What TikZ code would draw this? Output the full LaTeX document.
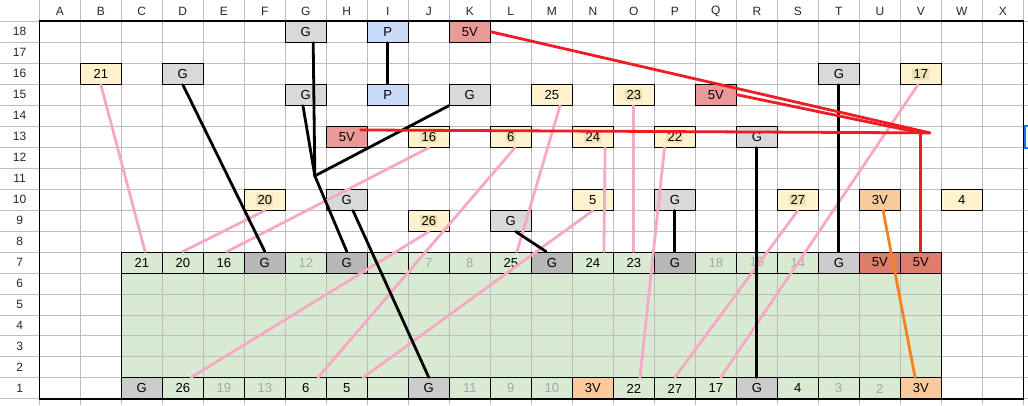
\documentclass[tikz,border=0pt]{standalone}
\usepackage{fontspec}
\setmainfont{Liberation Sans}
\usetikzlibrary{calc, positioning}

\definecolor{amarilloc}{HTML}{FFF2CC}
\definecolor{resalte}{HTML}{EEE2B4}
\definecolor{grisc}{HTML}{D9D9D9}
\definecolor{grism}{HTML}{CCCCCC}
\definecolor{grisd}{HTML}{B7B7B7}
\definecolor{azulc}{HTML}{C9DAF8}
\definecolor{rojoc}{HTML}{EA9999}
\definecolor{rojod}{HTML}{DD7E6B}
\definecolor{naranjac}{HTML}{F9CB9C}
\definecolor{verdec}{HTML}{D9EAD3}
\definecolor{rejilla}{HTML}{BDBDBD}
\definecolor{cablerosa}{HTML}{F7A8C4}
\definecolor{cablerojo}{HTML}{EE1D23}
\definecolor{cablenaranja}{HTML}{F58220}
\definecolor{seleccion}{HTML}{1A73E8}

\newcommand{\tostado}[1]{{\setlength{\fboxsep}{1pt}\colorbox{resalte}{#1}}}

\begin{document}
\begin{tikzpicture}[x=30.75pt, y=15.735pt,
  celda/.style={draw=black, line width=0.75pt, minimum width=30.75pt,
    minimum height=15.735pt, inner sep=0pt, font=\fontsize{9.8}{11}\selectfont},
  amarillo/.style={celda, fill=amarilloc},
  gris/.style={celda, fill=grisc},
  azul/.style={celda, fill=azulc},
  rojo/.style={celda, fill=rojoc},
  naranja/.style={celda, fill=naranjac},
  verde/.style={celda, fill=verdec},
  apagado/.style={celda, fill=verdec, text=black!35},
  oscuro/.style={celda, fill=grisd},
  medio/.style={celda, fill=grism},
  fuerte/.style={celda, fill=rojod},
  cabeza/.style={font=\fontsize{9}{10}\selectfont, text=black!85},
  cable/.style={line width=2.1pt, line cap=round},
  rosa/.style={cable, draw=cablerosa},
  negro/.style={cable, draw=black},
  rojocable/.style={cable, draw=cablerojo},
  naranjacable/.style={cable, draw=cablenaranja}]

\useasboundingbox (-0.959,-0.29) rectangle (24.114,19.015);

% Fondo verde de la placa
\fill[verdec] (2,1) rectangle (22,6);

% Rejilla de la hoja
\foreach \i in {0,...,24}
  \draw[rejilla, line width=0.75pt] (\i,-0.29) -- (\i,19.015);
\foreach \r in {0,...,18}
  \draw[rejilla, line width=0.75pt] (-0.959,\r) -- (24.114,\r);

% Cabeceras de columnas y filas
\foreach \l [count=\i from 0] in {A,B,C,D,E,F,G,H,I,J,K,L,M,N,O,P,Q,R,S,T,U,V,W,X}
  \node[cabeza] (col\l) at (\i+0.5,18.47) {\l};
\foreach \r in {1,...,18}
  \node[cabeza] (fila\r) at (-0.48,\r-0.5) {\r};

% Fila 7 del conector
\foreach \c/\t/\s in {2/21/verde, 3/20/verde, 4/16/verde, 5/G/oscuro, 6/12/apagado,
    7/G/oscuro, 8//verde, 9/7/apagado, 10/8/apagado, 11/25/verde, 12/G/oscuro,
    13/24/verde, 14/23/verde, 15/G/oscuro, 16/18/apagado, 17/15/apagado,
    18/14/apagado, 19/G/medio, 20/5V/fuerte, 21/5V/fuerte}
  \node[\s] (t\c) at (\c+0.5,6.5) {\t};

% Fila 1 del conector
\foreach \c/\t/\s in {2/G/medio, 3/26/verde, 4/19/apagado, 5/13/apagado, 6/6/verde,
    7/5/verde, 8//verde, 9/G/medio, 10/11/apagado, 11/9/apagado, 12/10/apagado,
    13/3V/naranja, 14/22/verde, 15/27/verde, 16/17/verde, 17/G/medio,
    18/4/verde, 19/3/apagado, 20/2/apagado, 21/3V/naranja}
  \node[\s] (b\c) at (\c+0.5,0.5) {\t};

% Borde de la placa y de la hoja
\draw[line width=0.75pt] (2,0) rectangle (22,7);
\draw[line width=1.2pt] (0,0) rectangle (24,18);

% Etiquetas sueltas
\node[gris] (G18) at (6.5,17.5) {G};
\node[azul] (I18) at (8.5,17.5) {P};
\node[rojo] (K18) at (10.5,17.5) {5V};
\node[amarillo] (B16) at (1.5,15.5) {21};
\node[gris] (D16) at (3.5,15.5) {G};
\node[gris] (T16) at (19.5,15.5) {G};
\node[amarillo] (V16) at (21.5,15.5) {\tostado{17}};
\node[gris] (G15) at (6.5,14.5) {G};
\node[azul] (I15) at (8.5,14.5) {P};
\node[gris] (K15) at (10.5,14.5) {G};
\node[amarillo] (M15) at (12.5,14.5) {25};
\node[amarillo] (O15) at (14.5,14.5) {\tostado{23}};
\node[rojo] (Q15) at (16.5,14.5) {5V};
\node[rojo] (H13) at (7.5,12.5) {5V};
\node[amarillo] (J13) at (9.5,12.5) {\tostado{16}};
\node[amarillo] (L13) at (11.5,12.5) {\tostado{6}};
\node[amarillo] (N13) at (13.5,12.5) {\tostado{24}};
\node[amarillo] (P13) at (15.5,12.5) {\tostado{22}};
\node[gris] (R13) at (17.5,12.5) {G};
\node[amarillo] (F10) at (5.5,9.5) {\tostado{20}};
\node[gris] (H10) at (7.5,9.5) {G};
\node[amarillo] (N10) at (13.5,9.5) {5};
\node[gris] (P10) at (15.5,9.5) {G};
\node[amarillo] (S10) at (18.5,9.5) {\tostado{27}};
\node[naranja] (U10) at (20.5,9.5) {3V};
\node[amarillo] (W10) at (22.5,9.5) {4};
\node[amarillo] (J9) at (9.5,8.5) {\tostado{26}};
\node[gris] (L9) at (11.5,8.5) {G};

% Cables de datos (rosa)
\draw[rosa] (B16.south) -- ($(t2.north)+(0.08,0)$);
\draw[rosa] (F10.south) -- (t3.north);
\draw[rosa] (J13.south) -- ($(t4.north)+(0.08,0)$);
\draw[rosa] (J9.south) -- ($(b3.north)+(0.2,0)$);
\draw[rosa] ($(L13.south)+(0.1,0)$) -- ($(b6.north)+(0.3,0)$);
\draw[rosa] ($(M15.south)+(0.2,0)$) -- ($(t11.north)+(0.15,0)$);
\draw[rosa] (N10.south) -- ($(b7.north)+(0.4,0)$);
\draw[rosa] ($(N13.south)+(0.3,0)$) -- ($(t13.north)+(0.27,0)$);
\draw[rosa] (O15.south) -- (t14.north);
\draw[rosa] ($(P13.south)+(-0.25,0)$) -- ($(b14.north)+(0.15,0)$);
\draw[rosa] (S10.south) -- (b15.north);
\draw[rosa] ($(V16.south)+(-0.07,0)$) -- ($(b16.north)+(0.12,0)$);

% Masas (negro)
\coordinate (nudo) at (6.72,10.63);
\draw[negro] ($(G18.south)+(0.18,0)$) -- (nudo);
\draw[negro] ($(G15.south)+(-0.07,0)$) -- (nudo);
\draw[negro] (K15.south west) -- (nudo);
\draw[negro] (nudo) -- (t7.north);
\draw[negro] (D16.south) -- (t5.north);
\draw[negro] ($(H10.south)+(0.15,0)$) -- (b9.north);
\draw[negro] ($(L9.south)+(0.12,0)$) -- ($(t12.north)+(-0.14,0)$);
\draw[negro] (P10.south) -- (t15.north);
\draw[negro] (R13.south) -- (b17.north);
\draw[negro] (T16.south) -- (t19.north);
\draw[negro] (I18.south) -- (I15.north);

% Alimentacion 5V (rojo) y 3V (naranja)
\coordinate (esq) at (21.72,12.68);
\coordinate (codo) at (t21.north |- esq);
\draw[rojocable] (K18.east) -- (esq);
\draw[rojocable] (Q15.east) -- (codo);
\draw[rojocable] ($(H13.east)+(-0.18,0.32)$) -- (esq);
\draw[rojocable] (codo) -- (t21.north);
\draw[naranjacable] ($(U10.south)+(0.08,0)$) -- ($(b21.north)+(-0.14,0)$);

% Marca de celda seleccionada
\draw[seleccion, line width=1.6pt] (24.12,13.02) -- (24.03,13.02) -- (24.03,11.95) -- (24.12,11.95);
\end{tikzpicture}
\end{document}
